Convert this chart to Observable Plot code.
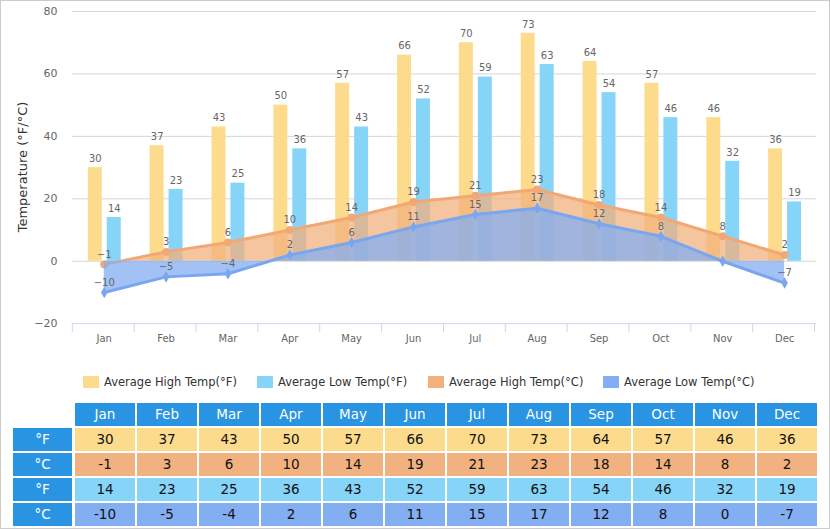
<!DOCTYPE html>
<html><head><meta charset="utf-8">
<script src="https://cdn.jsdelivr.net/npm/d3@7"></script>
<script src="https://cdn.jsdelivr.net/npm/@observablehq/plot@0.6"></script>
<style>
body{margin:0;background:#fff;font-family:"DejaVu Sans",sans-serif;}
#wrap{position:relative;width:830px;height:529px;box-sizing:border-box;border:1px solid #ccc;background:#fff;overflow:hidden}
#chart{position:absolute;left:-1px;top:-1px}
.ytitle{position:absolute;left:21px;top:166px;transform:translate(-50%,-50%) rotate(-90deg);font-size:13px;color:#333;white-space:nowrap}
.leg{position:absolute;top:374px;height:14px;display:flex;align-items:center;font-size:11.5px;color:#333;white-space:nowrap}
.leg span.sw{display:inline-block;width:16px;height:12px;margin-right:5px}
.cell{position:absolute;height:23px;line-height:23px;text-align:center;font-size:13.5px;color:#111}
.hd{background:#2894e2;color:#fff}
</style></head>
<body><div id="wrap"></div>
<script>
const months = ["Jan","Feb","Mar","Apr","May","Jun","Jul","Aug","Sep","Oct","Nov","Dec"];
const highF = [30,37,43,50,57,66,70,73,64,57,46,36];
const lowF  = [14,23,25,36,43,52,59,63,54,46,32,19];
const highC = [-1,3,6,10,14,19,21,23,18,14,8,2];
const lowC  = [-10,-5,-4,2,6,11,15,17,12,8,0,-7];
const yTicks = [-20,0,20,40,60,80];
const seriesNames = ["Average High Temp(°F)","Average Low Temp(°F)","Average High Temp(°C)","Average Low Temp(°C)"];
const colors = {highF:"#fddb8c", lowF:"#87d4f9", highC:"#f2b27f", lowC:"#83aef1"};
const rowLabels = ["°F","°C","°F","°C"];

const data = months.map((m,i)=>({month:m, highF:highF[i], lowF:lowF[i], highC:highC[i], lowC:lowC[i]}));
const fmt = v => String(v).replace("-", "\u2212");
const labelFill = "#666";

const chart = Plot.plot({
  width: 830, height: 345,
  marginLeft: 72, marginRight: 12, marginTop: 11, marginBottom: 21,
  style: {fontFamily: "DejaVu Sans, sans-serif", background: "transparent"},
  x: {type: "band", domain: months, padding: 0},
  y: {domain: [-20, 80]},
  marks: [
    Plot.ruleY(yTicks.filter(t => t > -20), {stroke: "#d6d6d6"}),
    Plot.ruleY([-20], {stroke: "#ccd6eb"}),
    Plot.barY(data, {x: "month", y: "highF", fill: colors.highF, insetLeft: 15, insetRight: 33}),
    Plot.barY(data, {x: "month", y: "lowF", fill: colors.lowF, insetLeft: 34, insetRight: 14}),
    Plot.areaY(data, {x: "month", y1: 0, y2: "highC", fill: colors.highC, fillOpacity: 0.75}),
    Plot.lineY(data, {x: "month", y: "highC", stroke: "#f2a874", strokeWidth: 3}),
    Plot.dot(data, {x: "month", y: "highC", r: 4, fill: "#f2a874"}),
    Plot.areaY(data, {x: "month", y1: 0, y2: "lowC", fill: colors.lowC, fillOpacity: 0.75}),
    Plot.lineY(data, {x: "month", y: "lowC", stroke: "#7aa6ef", strokeWidth: 3}),
    Plot.dot(data, {x: "month", y: "lowC", r: 3.5, symbol: "diamond", fill: "#7aa6ef"}),
    Plot.text(data, {x: "month", y: "highF", text: d => fmt(d.highF), dx: -9, dy: -9, fill: labelFill, fontSize: 10}),
    Plot.text(data, {x: "month", y: "lowF", text: d => fmt(d.lowF), dx: 10, dy: -9, fill: labelFill, fontSize: 10}),
    Plot.text(data, {x: "month", y: "highC", text: d => fmt(d.highC), dy: -10, fill: labelFill, fontSize: 10}),
    Plot.text(data.filter(d => d.lowC !== 0), {x: "month", y: "lowC", text: d => fmt(d.lowC), dy: -10, fill: labelFill, fontSize: 10}),
    Plot.axisY({ticks: yTicks, tickSize: 0, tickPadding: 15, fontSize: 11, color: "#666", label: null}),
    Plot.axisX({tickSize: 0, tickPadding: 11, fontSize: 10, color: "#666", label: null})
  ]
});
chart.id = "chart";
const wrap = document.getElementById("wrap");
wrap.appendChild(chart);

// category boundary ticks on the x axis, from the band scale
const sx = chart.scale("x");
const sy = chart.scale("y");
const y0 = sy.apply(-20);
const svg = d3.select(chart);
const g = svg.append("g").attr("stroke", "#ccd6eb");
for (let i = 0; i <= months.length; i++) {
  const xx = Math.round(sx.range[0] + i * sx.step) + 0.5;
  g.append("line").attr("x1", xx).attr("x2", xx).attr("y1", y0).attr("y2", y0 + 9);
}

// y title
const yt = document.createElement("div");
yt.className = "ytitle"; yt.textContent = "Temperature (°F/°C)";
wrap.appendChild(yt);

// legend
const legX = [83, 257, 428, 603];
const legC = [colors.highF, colors.lowF, colors.highC, colors.lowC];
seriesNames.forEach((n, i) => {
  const d = document.createElement("div");
  d.className = "leg"; d.style.left = (legX[i] - 1) + "px";
  d.innerHTML = `<span class="sw" style="background:${legC[i]}"></span>${n}`;
  wrap.appendChild(d);
});

// table
function cell(x, y, w, txt, cls, bg) {
  const d = document.createElement("div");
  d.className = "cell " + (cls || "");
  d.style.left = (x - 1) + "px"; d.style.top = (y - 1) + "px"; d.style.width = w + "px";
  if (bg) d.style.background = bg;
  d.textContent = txt;
  wrap.appendChild(d);
}
months.forEach((m, i) => cell(75 + i * 62, 403, 60, m, "hd"));
const rows = [highF, highC, lowF, lowC];
const rowBg = [colors.highF, colors.highC, colors.lowF, colors.lowC];
rows.forEach((arr, r) => {
  const y = 428 + r * 25;
  cell(13, y, 59, rowLabels[r], "hd");
  arr.forEach((v, i) => cell(75 + i * 62, y, 60, String(v), "", rowBg[r]));
});
</script></body></html>
